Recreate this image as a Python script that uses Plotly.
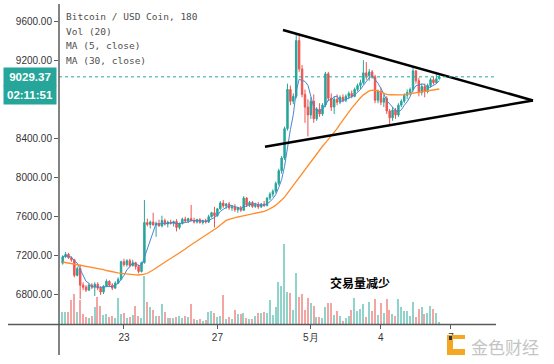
import pandas as pd
import plotly.graph_objects as go

# ---------------- data (3-hour candles, BTC/USDC) ----------------
start_time = "2020-04-20 09:00"
n_candles = 130
times = pd.date_range(start_time, periods=n_candles, freq="3h")

opens = [7125, 7190, 7215, 7180, 7160, 7000, 7070, 6900, 6880, 6850,
         6900, 6880, 6910, 6870, 6830, 6890, 6940, 6900, 6870, 6920,
         6960, 7140, 7110, 7150, 7100, 7130, 7090, 7040, 7130, 7540,
         7520, 7545, 7515, 7530, 7505, 7560, 7525, 7545, 7530, 7550,
         7490, 7530, 7575, 7555, 7580, 7560, 7545, 7570, 7540, 7560,
         7545, 7600, 7640, 7610, 7680, 7740, 7710, 7730, 7690, 7700,
         7670, 7690, 7665, 7790, 7720, 7745, 7705, 7725, 7700, 7730,
         7715, 7790, 7830, 7860, 7940, 8070, 8200, 8500, 8900, 8780,
         8830, 9400, 9110, 8850, 8720, 8640, 8780, 8600, 8700, 8650,
         8740, 9060, 8810, 8720, 8800, 8770, 8820, 8790, 8830, 8860,
         8830, 8900, 8940, 8970, 9070, 9040, 9080, 9030, 8790, 8880,
         8770, 8810, 8680, 8610, 8690, 8640, 8740, 8780, 8840, 8870,
         8900, 9090, 8990, 8870, 8930, 8880, 8940, 9000, 8970, 9010]
highs = [7205, 7240, 7230, 7195, 7170, 7090, 7110, 6930, 6900, 6920,
         6920, 6930, 6930, 6890, 6900, 6960, 6950, 6920, 6940, 6980,
         7150, 7170, 7165, 7170, 7160, 7140, 7110, 7140, 7770, 7580,
         7560, 7640, 7550, 7570, 7610, 7580, 7560, 7570, 7560, 7575,
         7540, 7590, 7600, 7590, 7720, 7590, 7580, 7585, 7570, 7580,
         7620, 7650, 7700, 7690, 7760, 7770, 7740, 7750, 7720, 7730,
         7700, 7710, 7810, 7800, 7760, 7760, 7740, 7750, 7740, 7760,
         7800, 7850, 7880, 7960, 8090, 8220, 8520, 8960, 8940, 8860,
         9470, 9460, 9150, 8900, 8800, 8820, 8850, 8720, 8760, 8760,
         9080, 9080, 8860, 8830, 8850, 8840, 8850, 8850, 8880, 8890,
         8920, 8960, 9000, 9200, 9180, 9110, 9100, 9050, 8900, 8920,
         8850, 8830, 8700, 8720, 8710, 8760, 8800, 8860, 8900, 8920,
         9130, 9100, 9020, 8960, 8960, 8960, 9020, 9030, 9060, 9050]
lows = [7110, 7180, 7170, 7140, 6980, 6990, 6760, 6850, 6830, 6840,
        6860, 6790, 6850, 6800, 6810, 6880, 6880, 6850, 6860, 6910,
        6950, 7090, 7090, 7080, 7090, 7060, 7020, 7030, 7120, 7500,
        7480, 7510, 7395, 7500, 7490, 7510, 7490, 7520, 7500, 7450,
        7470, 7520, 7540, 7535, 7550, 7530, 7530, 7530, 7520, 7530,
        7535, 7590, 7490, 7600, 7670, 7690, 7680, 7670, 7660, 7650,
        7640, 7650, 7660, 7700, 7700, 7690, 7690, 7680, 7690, 7700,
        7705, 7770, 7800, 7840, 7920, 8040, 8180, 8480, 8740, 8750,
        8810, 9080, 8820, 8560, 8420, 8600, 8560, 8580, 8620, 8630,
        8720, 8780, 8680, 8650, 8740, 8750, 8770, 8770, 8800, 8810,
        8820, 8880, 8900, 8950, 9000, 8990, 9010, 8760, 8760, 8740,
        8720, 8650, 8540, 8580, 8600, 8620, 8720, 8760, 8800, 8840,
        8880, 8960, 8830, 8840, 8820, 8860, 8920, 8950, 8960, 9000]
closes = [7190, 7215, 7180, 7160, 7000, 7070, 6900, 6880, 6850, 6900,
          6880, 6910, 6870, 6830, 6890, 6940, 6900, 6870, 6920, 6960,
          7140, 7110, 7150, 7100, 7130, 7090, 7040, 7130, 7540, 7520,
          7545, 7515, 7530, 7505, 7560, 7525, 7545, 7530, 7550, 7490,
          7530, 7575, 7555, 7580, 7560, 7545, 7570, 7540, 7560, 7545,
          7600, 7640, 7610, 7680, 7740, 7710, 7730, 7690, 7700, 7670,
          7690, 7665, 7790, 7720, 7745, 7705, 7725, 7700, 7730, 7715,
          7790, 7830, 7860, 7940, 8070, 8200, 8500, 8900, 8780, 8830,
          9400, 9110, 8850, 8720, 8640, 8780, 8600, 8700, 8650, 8740,
          9060, 8810, 8720, 8800, 8770, 8820, 8790, 8830, 8860, 8830,
          8900, 8940, 8970, 9070, 9040, 9080, 9030, 8790, 8880, 8770,
          8810, 8680, 8610, 8690, 8640, 8740, 8780, 8840, 8870, 8900,
          9090, 8990, 8870, 8930, 8880, 8940, 9000, 8970, 9010, 9029.37]
volumes = [12, 12, 12, 24, 30, 12, 24, 10, 7, 6,
           8, 17, 27, 18, 9, 10, 7, 8, 6, 26,
           10, 11, 6, 7, 9, 18, 8, 6, 48, 22,
           17, 14, 8, 8, 20, 12, 6, 6, 6, 7,
           8, 6, 8, 7, 20, 5, 4, 5, 3, 4,
           12, 13, 11, 7, 8, 29, 5, 7, 5, 14,
           10, 10, 11, 6, 5, 5, 8, 11, 11, 12,
           11, 24, 9, 17, 42, 38, 80, 32, 31, 14,
           51, 27, 30, 14, 26, 21, 18, 7, 7, 6,
           17, 21, 21, 9, 13, 8, 3, 6, 8, 14,
           26, 13, 15, 20, 7, 22, 13, 25, 9, 21,
           11, 25, 14, 10, 8, 25, 17, 13, 13, 8,
           22, 7, 15, 17, 10, 11, 18, 15, 11, 2]
# MA(30) as drawn (includes history before the visible window)
ma30 = [7137, 7132, 7127, 7122, 7117, 7111, 7106, 7101, 7096, 7091,
        7086, 7081, 7076, 7071, 7060, 7050, 7042, 7035, 7030, 7025,
        7020, 7016, 7012, 7009, 7007, 7005, 7004, 7006, 7012, 7022,
        7036, 7055, 7075, 7097, 7118, 7138, 7155, 7172, 7190, 7210,
        7230, 7250, 7270, 7292, 7312, 7330, 7348, 7365, 7385, 7405,
        7425, 7445, 7468, 7490, 7515, 7540, 7562, 7572, 7582, 7590,
        7597, 7603, 7609, 7614, 7620, 7626, 7632, 7638, 7645, 7655,
        7666, 7679, 7698, 7718, 7742, 7770, 7800, 7840, 7880, 7925,
        7970, 8010, 8050, 8090, 8125, 8162, 8200, 8240, 8280, 8320,
        8355, 8390, 8422, 8458, 8500, 8545, 8590, 8630, 8668, 8710,
        8748, 8782, 8815, 8845, 8868, 8885, 8893, 8892, 8885, 8872,
        8860, 8850, 8846, 8844, 8843, 8843, 8845, 8848, 8853, 8858,
        8864, 8868, 8872, 8876, 8880, 8885, 8890, 8895, 8900, 8905]
last_price = 9029.37
countdown = "02:11:51"

y_ticks = [6800, 7200, 7600, 8000, 8400, 9200, 9600]
x_tick_dates = ["2020-04-23", "2020-04-27", "2020-05-01", "2020-05-04", "2020-05-07"]
x_tick_text = ["23", "27", "5月", "4", "7"]

# triangle trendlines (time, price)
upper_line = [("2020-04-29 19:22", 9508), ("2020-05-10 12:16", 8788)]
lower_line = [("2020-04-29 00:53", 8315), ("2020-05-10 12:16", 8788)]

legend_lines = ["Bitcoin / USD Coin, 180", "Vol (20)", "MA (5, close)", "MA (30, close)"]
note_text = "交易量减少"
note_pos = ("2020-05-03 02:25", 6923)

# ---------------- styling ----------------
UP = "#26a69a"
DOWN = "#ef5350"
UP_VOL = "#8fd3cb"
DOWN_VOL = "#f3a5a4"

W, H = 554, 364
L, R, T, B = 59, 9, 5, 40
plot_h = H - T - B
plot_w = W - L - R


def px_x(px):
    return (px - L) / plot_w


def px_y(py):
    return (H - B - py) / plot_h


ma5 = pd.Series(closes).rolling(5, min_periods=1).mean()
vol_colors = [UP_VOL if c >= o else DOWN_VOL for o, c in zip(opens, closes)]

fig = go.Figure()
fig.add_trace(go.Bar(x=times, y=volumes, marker_color=vol_colors, marker_line_width=0,
                     width=3 * 3600 * 1000 * 0.5, yaxis="y2", showlegend=False))
fig.add_trace(go.Candlestick(x=times, open=opens, high=highs, low=lows, close=closes,
                             increasing=dict(line=dict(color=UP, width=1), fillcolor=UP),
                             decreasing=dict(line=dict(color=DOWN, width=1), fillcolor=DOWN),
                             whiskerwidth=0, showlegend=False))
fig.add_trace(go.Scatter(x=times, y=ma5, mode="lines", line=dict(color="#4a86d0", width=1),
                         showlegend=False))
fig.add_trace(go.Scatter(x=times, y=ma30, mode="lines", line=dict(color="#ff8c2a", width=1.3),
                         showlegend=False))

shapes = []
for seg in (upper_line, lower_line):
    shapes.append(dict(type="line", xref="x", yref="y", x0=seg[0][0], y0=seg[0][1],
                       x1=seg[1][0], y1=seg[1][1], line=dict(color="black", width=2.5)))
# last price dotted line
shapes.append(dict(type="line", xref="paper", yref="y", x0=0, x1=px_x(496),
                   y0=last_price, y1=last_price, line=dict(color=UP, width=1, dash="dot")))
# axis lines
shapes.append(dict(type="line", xref="paper", yref="paper", x0=px_x(8), x1=px_x(496),
                   y0=px_y(324.5), y1=px_y(324.5), line=dict(color="#5a5a5a", width=1.5)))
shapes.append(dict(type="line", xref="paper", yref="paper", x0=px_x(59), x1=px_x(59),
                   y0=px_y(355), y1=px_y(4), line=dict(color="#5a5a5a", width=1.5)))
# watermark logo
shapes.append(dict(type="rect", xref="paper", yref="paper", x0=px_x(447), x1=px_x(465),
                   y0=px_y(355), y1=px_y(335), fillcolor="#f5a623", line=dict(width=0)))
shapes.append(dict(type="rect", xref="paper", yref="paper", x0=px_x(453), x1=px_x(465),
                   y0=px_y(349), y1=px_y(339), fillcolor="white", line=dict(width=0)))
shapes.append(dict(type="rect", xref="paper", yref="paper", x0=px_x(449), x1=px_x(452),
                   y0=px_y(340), y1=px_y(336), fillcolor="#333333", line=dict(width=0)))

annotations = []
for k, txt in enumerate(legend_lines):
    annotations.append(dict(xref="paper", yref="paper", x=px_x(64), y=px_y(17 + 14.4 * k),
                            xanchor="left", yanchor="middle", text=txt, showarrow=False,
                            font=dict(family="DejaVu Sans Mono", size=9.5, color="#505050")))
annotations.append(dict(xref="paper", yref="y", x=0, y=last_price, xanchor="right", xshift=-2,
                        text="<b>%.2f</b>" % last_price, showarrow=False, bgcolor=UP,
                        width=50, height=16, borderpad=1,
                        font=dict(family="Liberation Sans", size=11.5, color="white")))
annotations.append(dict(xref="paper", yref="y", x=0, y=last_price, xanchor="right", xshift=-2,
                        yshift=-18.5, text="<b>%s</b>" % countdown, showarrow=False, bgcolor=UP,
                        width=50, height=16, borderpad=1,
                        font=dict(family="Liberation Sans", size=11.5, color="white")))
annotations.append(dict(xref="x", yref="y", x=note_pos[0], y=note_pos[1], text="<b>%s</b>" % note_text,
                        showarrow=False, font=dict(family="Noto Sans CJK SC", size=12, color="black")))
annotations.append(dict(xref="paper", yref="paper", x=px_x(469), y=px_y(346), xanchor="left",
                        yanchor="middle", text="金色财经", showarrow=False,
                        font=dict(family="Noto Sans CJK SC", size=17, color="#c4c4c4")))

fig.update_layout(
    width=W, height=H,
    margin=dict(l=L, r=R, t=T, b=B, pad=0),
    paper_bgcolor="white", plot_bgcolor="white",
    bargap=0,
    xaxis=dict(type="date", range=["2020-04-20 05:14", "2020-05-11 00:37"],
               showgrid=False, zeroline=False, showline=False,
               tickvals=x_tick_dates, ticktext=x_tick_text,
               ticks="outside", ticklen=4, tickcolor="#5a5a5a", tickwidth=1,
               tickfont=dict(family="Liberation Sans", size=10, color="#333333"),
               rangeslider=dict(visible=False)),
    yaxis=dict(range=[6503.3, 9763.5], showgrid=False, zeroline=False, showline=False,
               tickvals=y_ticks, tickformat=".2f",
               ticks="outside", ticklen=4, tickcolor="#5a5a5a", tickwidth=1,
               tickfont=dict(family="Liberation Sans", size=10, color="#333333")),
    yaxis2=dict(overlaying="y", range=[0, plot_h], visible=False),
    shapes=shapes,
    annotations=annotations,
    hovermode=False,
)

fig.write_html("out.html", config={"displayModeBar": False},
               post_script="document.body.style.margin='0';document.body.style.padding='0';"
                           "document.body.style.overflow='hidden';")
